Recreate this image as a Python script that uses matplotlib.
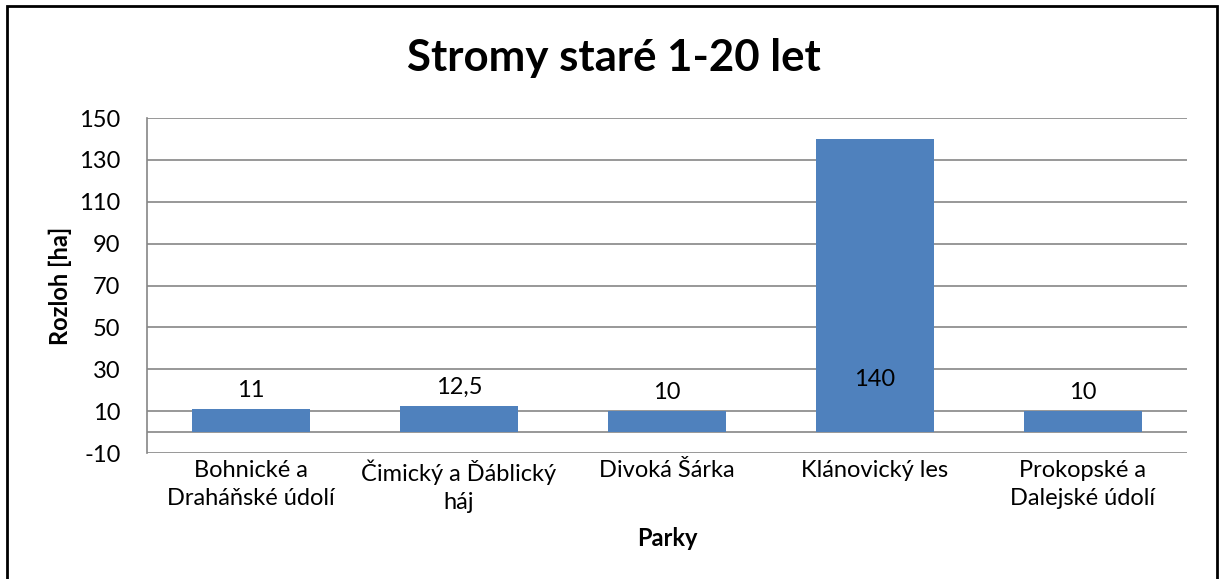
import matplotlib.pyplot as plt
import numpy as np
from matplotlib.patches import Rectangle

plt.rcParams['font.family'] = ['Lato', 'DejaVu Sans']

parky = ["Bohnické a\nDraháňské údolí", "Čimický a Ďáblický\nháj", "Divoká Šárka",
         "Klánovický les", "Prokopské a\nDalejské údolí"]
rozloh = [11, 12.5, 10, 140, 10]
popisky = ["11", "12,5", "10", "140", "10"]
yticks = [-10, 10, 30, 50, 70, 90, 110, 130, 150]

fs = 17

fig = plt.figure(figsize=(12.21, 5.79), dpi=100)
ax = fig.add_axes([0.1204, 0.2176, 0.8516, 0.5786])

x = np.arange(len(parky))
ax.bar(x, rozloh, width=0.567, color='#4F81BD', zorder=3)

# popisky hodnot (u vysokeho sloupce uvnitr)
for xi, v, t in zip(x, rozloh, popisky):
    if v > 100:
        ax.text(xi, 25, t, ha='center', va='center', fontsize=fs, zorder=4)
    else:
        ax.annotate(t, (xi, v), xytext=(0, 6), textcoords='offset points',
                    ha='center', va='bottom', fontsize=fs, zorder=4)

ax.set_ylim(-10, 150)
ax.set_xlim(-0.5, len(parky) - 0.5)
ax.set_yticks(yticks)
ax.set_yticklabels([str(t) for t in yticks], fontsize=fs)
ax.set_xticks(x)
ax.set_xticklabels(parky, fontsize=fs, linespacing=1.4, va='top')
ax.tick_params(axis='y', length=0, pad=19)
ax.tick_params(axis='x', length=0, pad=5)

ax.grid(axis='y', color='#868686', linewidth=1.2, zorder=0)
ax.axhline(0, color='#868686', linewidth=1.2, zorder=2)
for s in ['top', 'right', 'bottom']:
    ax.spines[s].set_visible(False)
ax.spines['left'].set_color('#868686')
ax.spines['left'].set_linewidth(1.2)

ax.set_ylabel('Rozloh [ha]', fontsize=fs, fontweight='bold', labelpad=5)
ax.set_xlabel('Parky', fontsize=fs, fontweight='bold', labelpad=10)
fig.text(0.503, 0.9, 'Stromy staré 1-20 let', ha='center', va='center',
         fontsize=31.5, fontweight='bold')

# ramecek grafu
fig.patches.append(Rectangle((7 / 1221, -0.05), 1210 / 1221, 1.05 - 6 / 579,
                             transform=fig.transFigure, fill=False,
                             edgecolor='black', linewidth=2))

fig.savefig('out.png', dpi=100)
